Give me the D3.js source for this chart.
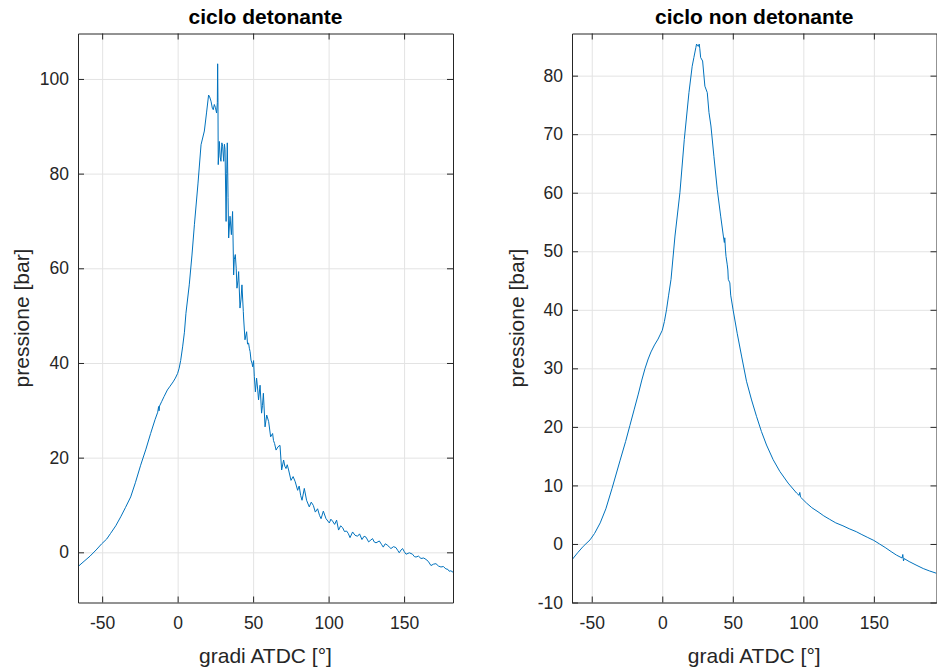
<!DOCTYPE html>
<html>
<head>
<meta charset="utf-8">
<script src="https://cdnjs.cloudflare.com/ajax/libs/d3/7.8.5/d3.min.js"></script>
<style>
  body { margin: 0; background: #fff; }
  svg { display: block; font-family: "Liberation Sans", Arial, sans-serif; }
</style>
</head>
<body>
<div id="chart"></div>
<script>
// pressure trace, knocking cycle (crank angle, bar)
const detAngle = [-66.3, -62, -58, -54, -50.3, -47, -44.4, -41, -37.7, -34.5, -31.1, -28, -24.5, -21, -17.9, -15, -13.2, -12.6, -12.3, -12.0,
  -10.5, -9, -6.8, -5, -3, -1.5, 0, 1, 2, 3.3, 4.5, 5.5, 7.7,
  9.5, 11.1, 13.5, 15.5, 17.7, 19.2, 20.5, 21.2, 22.1, 23.0, 23.6, 24.3, 25.0, 25.8, 26.3, 26.5, 26.7, 26.9, 27.6, 28.2, 28.7,
  29.3, 29.8, 30.5, 31.0, 31.4, 32.1, 32.5, 32.9, 33.4, 33.8, 34.7, 35.6, 36.4, 37.1, 37.5, 38.2, 38.8, 39.3, 40.0, 40.4,
  41.3, 42.0, 42.6, 43.5, 43.7, 44.6, 45.7, 46.3, 47.0, 47.5, 48.0, 48.6, 49.3, 49.7, 50.3, 50.8, 51.5, 52.3, 53.0, 53.6,
  54.6, 55.6, 56.2, 56.8, 57.9, 59.0, 60.3, 61.6, 62.9, 63.5, 64.2, 65.2, 66.5, 67.8, 68.9, 70.2, 71.0, 71.8, 72.6, 73.5,
  75.1, 76.5, 77.9, 79.5, 80.5, 81.5, 82.4, 83.9, 85.4, 87.2, 88.5, 89.9, 91.2, 92.7, 94, 95.0, 96.5, 98.3, 100.5, 101.5,
  102.6, 104, 105.3, 106.6, 108, 109.3, 110.5, 111.9, 113, 114.2, 115.9, 117.5, 119.2, 120.5, 122.1, 123.5, 124.8, 126.5, 128, 129.1,
  130.2, 131.4, 133.6, 135, 136.2, 137.5, 139.1, 140.2, 141.3, 143, 144.6, 145.8, 146.8, 148, 149.0, 150.2, 151.3, 153.5, 155.6, 156.8,
  157.9, 159.5, 161.2, 163, 164.5, 166, 167.8, 169.5, 171.1, 172.8, 174.4, 176, 177.7, 179, 179.9, 181, 182.4];
const detPressure = [-3.1, -1.9, -0.8, 0.5, 1.8, 2.8, 4.0, 5.6, 7.5, 9.5, 11.7, 14.7, 18.4, 21.8, 25.1, 28.0, 29.6, 30.8, 29.9, 30.9,
  31.9, 32.9, 34.3, 35.1, 36.0, 36.8, 37.8, 38.9, 40.5, 43.4, 46.5, 50.5, 56.5,
  62.8, 69.2, 78, 86.1, 89, 93, 96.6, 96.2, 95.3, 93.8, 93.5, 94.6, 94.0, 92.8, 95, 103.2, 96, 81.9, 86.8, 83.5, 82.6,
  86.5, 85.8, 82.6, 86.2, 85.1, 69.9, 80, 86.5, 75, 66.4, 71.0, 67.1, 72.0, 58.6, 61.8, 62.9, 60, 55.8, 57.5, 59.3,
  51.6, 53.5, 56.5, 50.9, 49.5, 44.9, 46.6, 44.0, 44.2, 43.1, 42.4, 40.6, 39.9, 39.2, 40.5, 37.1, 33.9, 36.8, 34.5, 32.2,
  35.3, 29.4, 31, 33.6, 26.5, 29.0, 27.6, 24.4, 25.1, 23.6, 23.0, 21.6, 22.3, 22.6, 17.4, 19.5, 18.2, 17.7, 18.5, 17.4,
  15.2, 16.0, 14.9, 13.1, 14.0, 12.0, 11.0, 13.5, 11.0, 9.6, 10.6, 9.9, 8.5, 9.2, 7.8, 7.1, 8.7, 7.1, 6.2, 7.0,
  6.6, 5.9, 6.8, 4.7, 5.6, 5.2, 4.4, 4.5, 4.0, 3.1, 4.3, 3.6, 3.4, 3.9, 2.7, 3.4, 3.2, 2.2, 2.6, 2.9,
  2.2, 2.0, 2.4, 1.7, 1.1, 1.8, 1.5, 1.1, 0.8, 1.2, 1.0, 0.4, -0.1, 0.5, 0.8, 0.1, -0.4, -0.1, -0.4, -0.9,
  -1.0, -0.8, -1.3, -1.2, -1.5, -1.9, -2.8, -2.5, -2.4, -2.9, -3.1, -3.0, -3.5, -3.6, -4.0, -3.9, -4.2];

// pressure trace, normal cycle
const nonAngle = [-64, -60, -56, -51.2, -48, -44, -40, -35.6, -30, -26, -23, -20, -17, -14.5, -12.2, -10, -8, -5.5, -3, 0,
  1.5, 3, 4.5, 6.2, 9.0, 12.5, 15.6,
  18.9, 21.2, 22.4, 23.8, 24.3, 24.8, 25.5, 26.2, 26.6, 27.2, 28.6, 30.2, 31.9, 33.1, 34.5, 36.6, 39.0, 41.4, 43.3, 44.0,
  44.3, 44.8, 45.2, 46.0, 46.5, 46.8, 47.9, 48.5, 50.2, 53.1, 56.2, 59.7, 63.3, 66.8, 70.3, 73.9, 78.6, 83.3, 89.2, 95.2,
  97, 97.5, 98, 102.2, 106, 110.4, 114.5, 118.7, 123, 128.1, 132.5, 137.5, 141.5, 145.7, 150, 154, 158, 162.2, 166, 170.0,
  170.5, 171.0, 171.5, 175, 179.9, 185, 189.3, 194.3];
const nonPressure = [-2.7, -1.5, -0.4, 0.7, 1.8, 3.6, 6.0, 9.5, 14.2, 17.5, 20.2, 22.9, 25.6, 28.0, 30, 31.6, 32.8, 34.0, 35, 36.5,
  38, 40, 42.5, 45.2, 52.6, 60, 69.1,
  77.1, 81.6, 83.1, 84.8, 85.4, 85.2, 85.0, 85.4, 84.6, 83.1, 82.5, 78.2, 77.1, 73.7, 71.4, 66.2, 60.5, 56.0, 52.6, 51.5,
  52.3, 50.2, 49.1, 47.8, 46.8, 45.2, 44.6, 42.5, 40.0, 36.0, 32.1, 27.8, 24.6, 21.8, 19.2, 16.9, 14.4, 12.4, 10.4, 8.7,
  8.3, 8.8, 8.0, 7.0, 6.2, 5.5, 4.8, 4.2, 3.6, 3.1, 2.6, 2.1, 1.6, 1.1, 0.6, 0, -0.6, -1.3, -1.9, -2.4,
  -1.8, -2.9, -2.5, -3.0, -3.6, -4.2, -4.6, -5.0];

const xTicks = [-50, 0, 50, 100, 150];
const detYTicks = [0, 20, 40, 60, 80, 100];
const nonYTicks = [-10, 0, 10, 20, 30, 40, 50, 60, 70, 80];

const W = 937, H = 668;
const axisColor = "#262626", gridColor = "#e3e3e3", lineColor = "#0072bd";

const svg = d3.select("#chart").append("svg")
    .attr("width", W)
    .attr("height", H);

const panels = [
  {title: "ciclo detonante", xs: detAngle, ys: detPressure, yTicks: detYTicks,
   left: 78, right: 453, xDom: [-66, 182.4], yDom: [-10.6, 109.6], yLabelX: 22},
  {title: "ciclo non detonante", xs: nonAngle, ys: nonPressure, yTicks: nonYTicks,
   left: 572, right: 936.5, xDom: [-64, 194.4], yDom: [-10, 87.2], yLabelX: 517}
];
const plotTop = 33.5, plotBottom = 602.5;

panels.forEach((p, i) => {
  const w = p.right - p.left, h = plotBottom - plotTop;
  const x = d3.scaleLinear().domain(p.xDom).range([0, w]);
  const y = d3.scaleLinear().domain(p.yDom).range([h, 0]);

  const g = svg.append("g").attr("transform", "translate(" + p.left + "," + plotTop + ")");

  // grid
  g.append("g").attr("transform", "translate(0," + h + ")")
      .call(d3.axisBottom(x).tickValues(xTicks).tickSize(-h).tickFormat(""))
      .call(s => s.select(".domain").remove())
      .call(s => s.selectAll("line").attr("stroke", gridColor));
  g.append("g")
      .call(d3.axisLeft(y).tickValues(p.yTicks).tickSize(-w).tickFormat(""))
      .call(s => s.select(".domain").remove())
      .call(s => s.selectAll("line").attr("stroke", gridColor));

  // trace
  const clipId = "clip" + i;
  g.append("clipPath").attr("id", clipId)
    .append("rect").attr("width", w).attr("height", h);
  const pts = p.xs.map((v, k) => [v, p.ys[k]]);
  g.append("path")
      .datum(pts)
      .attr("clip-path", "url(#" + clipId + ")")
      .attr("fill", "none")
      .attr("stroke", lineColor)
      .attr("stroke-width", 1)
      .attr("stroke-linejoin", "round")
      .attr("d", d3.line().x(d => x(d[0])).y(d => y(d[1])));

  // axes, ticks inward on all four sides
  const styleAxis = s => {
    s.select(".domain").attr("stroke", axisColor);
    s.selectAll(".tick line").attr("stroke", axisColor);
    s.selectAll("text").attr("fill", axisColor).style("font-size", "17.5px")
      .style("font-family", "'Liberation Sans', Arial, sans-serif");
  };
  g.append("g").attr("transform", "translate(0," + h + ")")
      .call(d3.axisBottom(x).tickValues(xTicks).tickSizeInner(-6).tickSizeOuter(0)
        .tickPadding(14).tickFormat(d => String(d)))
      .call(styleAxis);
  g.append("g")
      .call(d3.axisTop(x).tickValues(xTicks).tickSizeInner(-6).tickSizeOuter(0).tickFormat(""))
      .call(styleAxis);
  g.append("g")
      .call(d3.axisLeft(y).tickValues(p.yTicks).tickSizeInner(-6).tickSizeOuter(0)
        .tickPadding(9).tickFormat(d => String(d)))
      .call(styleAxis);
  g.append("g").attr("transform", "translate(" + w + ",0)")
      .call(d3.axisRight(y).tickValues(p.yTicks).tickSizeInner(-6).tickSizeOuter(0).tickFormat(""))
      .call(styleAxis);

  // titles and labels
  svg.append("text")
      .attr("x", p.left + w / 2)
      .attr("y", 24)
      .attr("text-anchor", "middle")
      .attr("fill", "#000")
      .style("font-size", "21px")
      .style("font-weight", "bold")
      .text(p.title);
  svg.append("text")
      .attr("x", p.left + w / 2)
      .attr("y", 663)
      .attr("text-anchor", "middle")
      .attr("fill", axisColor)
      .style("font-size", "21px")
      .text("gradi ATDC [°]");
  svg.append("text")
      .attr("transform", "translate(" + p.yLabelX + "," + (plotTop + h / 2) + ") rotate(-90)")
      .attr("dy", "0.35em")
      .attr("text-anchor", "middle")
      .attr("fill", axisColor)
      .style("font-size", "21px")
      .text("pressione [bar]");
});
</script>
</body>
</html>
